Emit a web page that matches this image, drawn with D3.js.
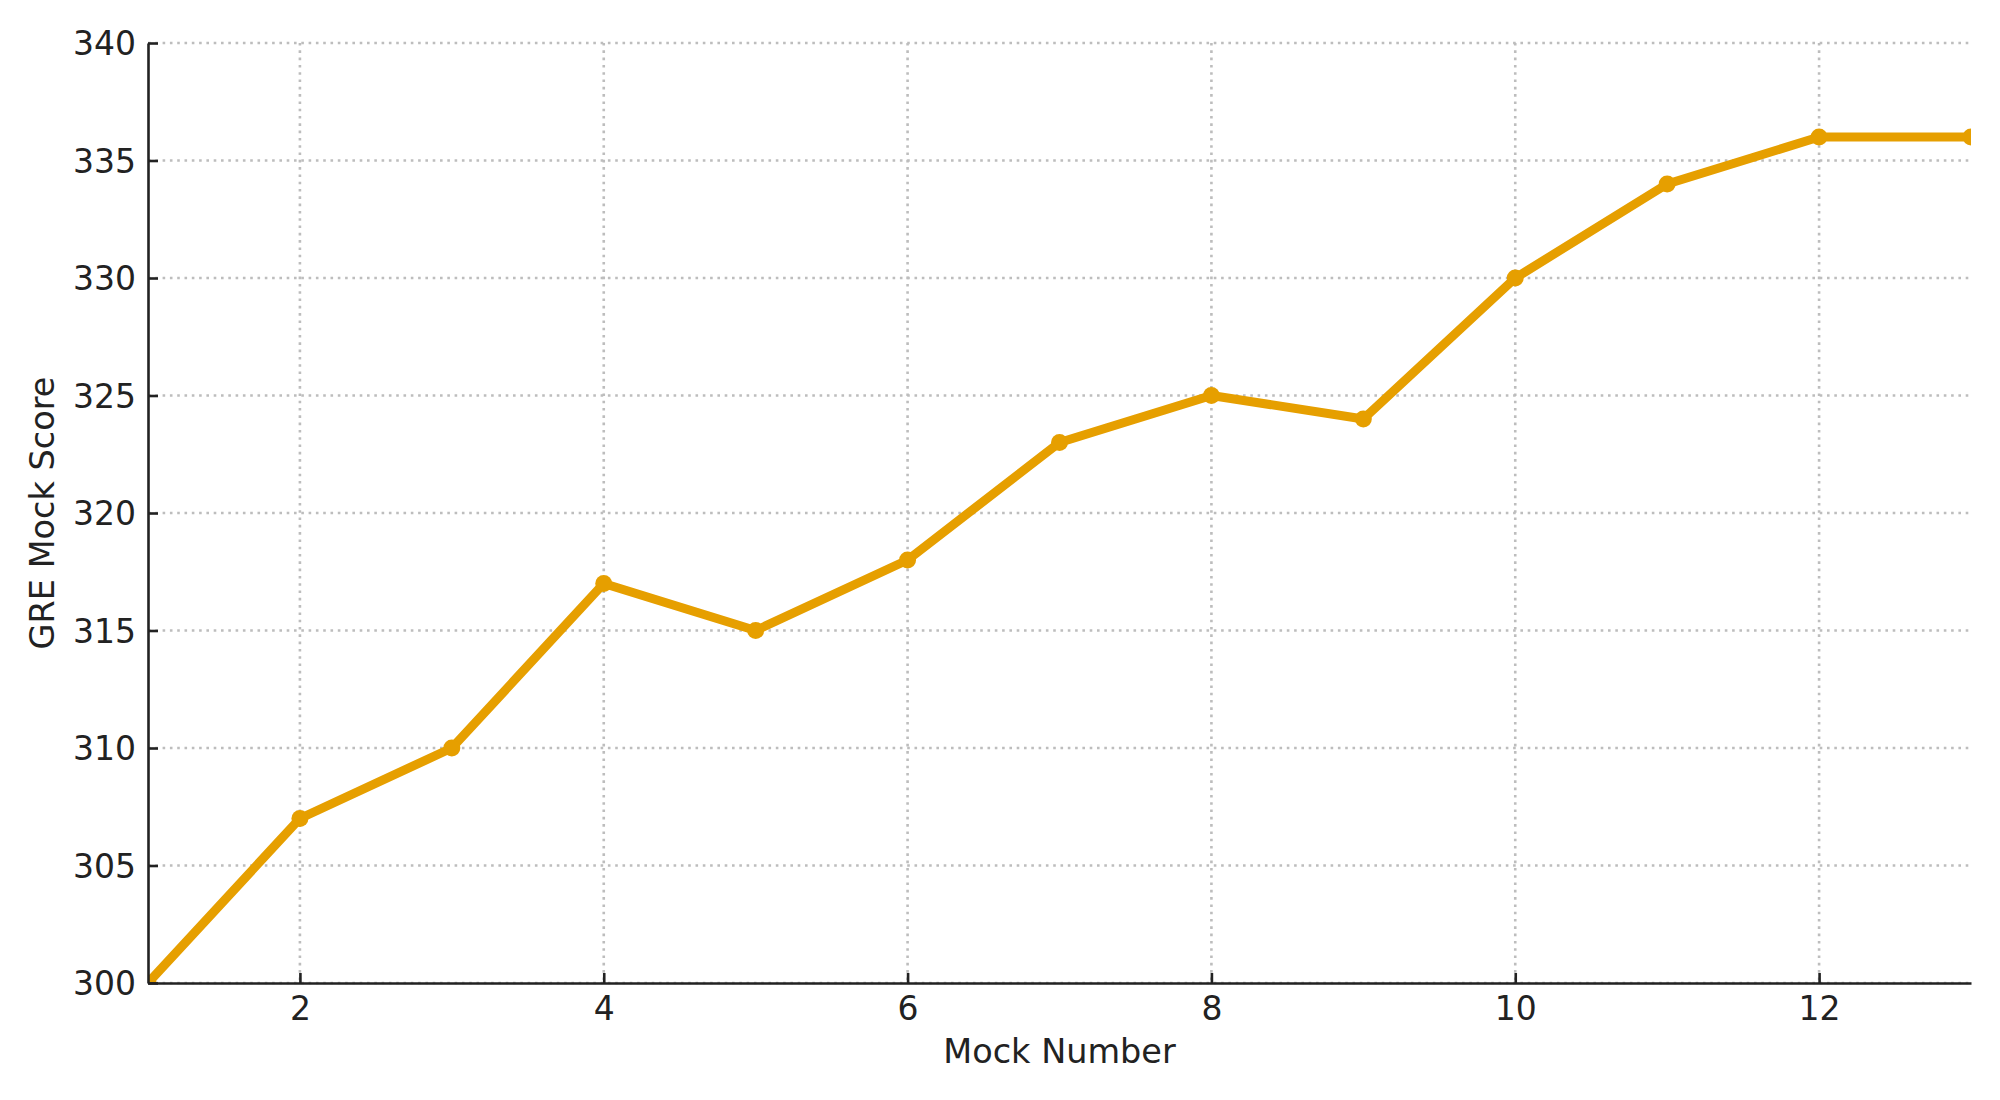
<!DOCTYPE html>
<html>
<head>
<meta charset="utf-8">
<script src="https://cdn.jsdelivr.net/npm/d3@7"></script>
<style>
  html, body { margin: 0; padding: 0; background: #fff; }
  svg { display: block; }
  text { font-family: "DejaVu Sans", sans-serif; fill: #222; }
</style>
</head>
<body>
<svg id="chart" width="2000" height="1100"></svg>
<script>
const mocks = [1, 2, 3, 4, 5, 6, 7, 8, 9, 10, 11, 12, 13];
const scores = [300, 307, 310, 317, 315, 318, 323, 325, 324, 330, 334, 336, 336];
const xTicks = [2, 4, 6, 8, 10, 12];
const yTicks = [300, 305, 310, 315, 320, 325, 330, 335, 340];
const xLabel = "Mock Number";
const yLabel = "GRE Mock Score";

const data = mocks.map((m, i) => ({ x: m, y: scores[i] }));

const margin = { left: 148, right: 29, top: 43, bottom: 117 };
const W = 2000, H = 1100;
const iw = W - margin.left - margin.right;
const ih = H - margin.top - margin.bottom;

const svg = d3.select("#chart");
const g = svg.append("g").attr("transform", `translate(${margin.left},${margin.top})`);

const x = d3.scaleLinear().domain([1, 13]).range([0, iw]);
const y = d3.scaleLinear().domain([300, 340]).range([ih, 0]);

// grid
g.append("g").selectAll("line").data(xTicks).join("line")
  .attr("x1", d => x(d)).attr("x2", d => x(d)).attr("y1", 0).attr("y2", ih)
  .attr("stroke", "#bdbdbd").attr("stroke-width", 2.6).attr("stroke-dasharray", "2.6,4.7");
g.append("g").selectAll("line").data(yTicks).join("line")
  .attr("x1", 0).attr("x2", iw).attr("y1", d => y(d)).attr("y2", d => y(d))
  .attr("stroke", "#bdbdbd").attr("stroke-width", 2.6).attr("stroke-dasharray", "2.6,4.7");

// clip
svg.append("defs").append("clipPath").attr("id", "clip")
  .append("rect").attr("x", 0).attr("y", 0).attr("width", iw).attr("height", ih);

const plot = g.append("g").attr("clip-path", "url(#clip)");
const line = d3.line().x(d => x(d.x)).y(d => y(d.y));
plot.append("path").datum(data).attr("d", line)
  .attr("fill", "none").attr("stroke", "#E69F00").attr("stroke-width", 9)
  .attr("stroke-linejoin", "round").attr("stroke-linecap", "butt");
plot.selectAll("circle").data(data).join("circle")
  .attr("cx", d => x(d.x)).attr("cy", d => y(d.y)).attr("r", 8.5)
  .attr("fill", "#E69F00");

// axes
const xAxis = d3.axisBottom(x).tickValues(xTicks).tickSizeInner(-10).tickSizeOuter(0).tickPadding(14);
const yAxis = d3.axisLeft(y).tickValues(yTicks).tickSizeInner(-10).tickSizeOuter(0).tickPadding(12);

const gx = g.append("g").attr("transform", `translate(0,${ih})`).call(xAxis);
const gy = g.append("g").call(yAxis);
[gx, gy].forEach(a => {
  a.select(".domain").attr("stroke", "#222").attr("stroke-width", 2.6);
  a.selectAll(".tick line").attr("stroke", "#222").attr("stroke-width", 2.6);
  a.selectAll(".tick text").attr("font-size", 33).attr("fill", "#222")
    .attr("font-family", "DejaVu Sans, sans-serif");
});
gy.selectAll(".tick text").attr("dy", "0.35em");

// axis labels
svg.append("text").attr("x", margin.left + iw / 2).attr("y", 1063)
  .attr("text-anchor", "middle").attr("font-size", 33.5).text(xLabel);
svg.append("text").attr("transform", `translate(54,${margin.top + ih / 2}) rotate(-90)`)
  .attr("text-anchor", "middle").attr("font-size", 33.5).text(yLabel);
</script>
</body>
</html>
